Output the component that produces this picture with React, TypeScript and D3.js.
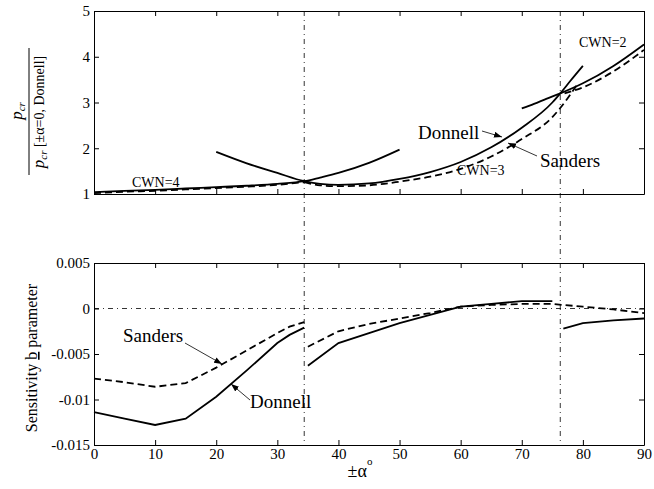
import { useRef, useEffect } from "react";
import * as d3 from "d3";

const W = 654;
const H = 489;
const LEFT = 94;
const RIGHT = 644;
const TOP_PANEL = { top: 11, bottom: 194 };
const BOT_PANEL = { top: 263, bottom: 445 };
const FONT = "'Liberation Serif', 'Times New Roman', serif";

// x ticks and y ticks
const alphaTicks = [0, 10, 20, 30, 40, 50, 60, 70, 80, 90];
const ratioTicks = [1, 2, 3, 4, 5];
const sensTicks = [-0.015, -0.01, -0.005, 0, 0.005];
const modeChangeAlpha = [34.4, 76.3];

// top panel: p_cr ratio
const donnellCwn4Alpha = [0, 5, 10, 15, 20, 25, 30, 34.4, 37, 40, 45, 50];
const donnellCwn4 = [1.04, 1.07, 1.09, 1.12, 1.15, 1.18, 1.22, 1.28, 1.36, 1.46, 1.68, 1.97];
const sandersCwn4Alpha = [0, 5, 10, 15, 20, 25, 30, 34.4];
const sandersCwn4 = [1.02, 1.05, 1.07, 1.1, 1.13, 1.16, 1.2, 1.26];

const donnellCwn3Alpha = [20, 25, 30, 34.4, 37, 40, 45, 50, 55, 60, 65, 70, 75, 76.3, 78, 80];
const donnellCwn3 = [1.92, 1.67, 1.46, 1.28, 1.22, 1.2, 1.23, 1.33, 1.48, 1.7, 2.02, 2.45, 3.0, 3.2, 3.48, 3.8];
const sandersCwn3Alpha = [34.4, 37, 40, 45, 50, 55, 60, 65, 70, 75, 76.3, 79];
const sandersCwn3 = [1.26, 1.19, 1.17, 1.19, 1.27, 1.38, 1.55, 1.82, 2.2, 2.68, 2.88, 3.38];

const donnellCwn2Alpha = [70, 72, 74, 76.3, 80, 85, 90];
const donnellCwn2 = [2.87, 2.97, 3.08, 3.2, 3.42, 3.8, 4.27];
const sandersCwn2Alpha = [77, 80, 85, 90];
const sandersCwn2 = [3.2, 3.33, 3.68, 4.15];

// bottom panel: sensitivity b
const donnellSens1Alpha = [0, 5, 10, 15, 20, 25, 30, 32, 34.4];
const donnellSens1 = [-0.0114, -0.0121, -0.0128, -0.0121, -0.0097, -0.0068, -0.0038, -0.0029, -0.0021];
const sandersSens1Alpha = [0, 5, 10, 15, 20, 25, 30, 32, 34.4];
const sandersSens1 = [-0.0077, -0.0081, -0.0086, -0.0082, -0.0065, -0.0046, -0.0027, -0.002, -0.0015];

const donnellSens2Alpha = [35, 40, 45, 50, 55, 60, 65, 70, 75];
const donnellSens2 = [-0.0063, -0.0038, -0.0027, -0.0016, -0.0007, 0.0002, 0.0005, 0.0008, 0.0008];
const sandersSens2Alpha = [35, 40, 45, 50, 55, 60, 65, 70, 75, 80, 85, 90];
const sandersSens2 = [-0.0042, -0.0025, -0.0017, -0.0011, -0.0005, 0.0002, 0.0004, 0.0005, 0.0005, 0.0002, -0.0001, -0.0005];

const donnellSens3Alpha = [76.8, 80, 85, 90];
const donnellSens3 = [-0.0022, -0.0016, -0.0013, -0.0011];

const zip = (a: number[], b: number[]) => a.map((v, i) => [v, b[i]] as [number, number]);

export default function App() {
  const svgRef = useRef<SVGSVGElement>(null);

  useEffect(() => {
    const svg = d3.select(svgRef.current);
    svg.selectAll("*").remove();

    svg.append("defs").append("marker")
      .attr("id", "arr")
      .attr("viewBox", "0 0 8 6")
      .attr("refX", 8)
      .attr("refY", 3)
      .attr("markerWidth", 8)
      .attr("markerHeight", 6)
      .attr("markerUnits", "userSpaceOnUse")
      .attr("orient", "auto")
      .append("path")
      .attr("d", "M0,0 L8,3 L0,6 Z")
      .attr("fill", "#000");

    const x = d3.scaleLinear().domain([0, 90]).range([LEFT, RIGHT]);
    const yTop = d3.scaleLinear().domain([1, 5]).range([TOP_PANEL.bottom, TOP_PANEL.top]);
    const yBot = d3.scaleLinear().domain([-0.015, 0.005]).range([BOT_PANEL.bottom, BOT_PANEL.top]);

    // axes for one panel
    const drawAxes = (y: d3.ScaleLinear<number, number>, yTicks: number[], panel: { top: number; bottom: number }, xLabels: boolean, yFmt: (d: number) => string) => {
      const g = svg.append("g");
      g.append("g")
        .attr("transform", `translate(0,${panel.bottom})`)
        .call(d3.axisBottom(x).tickValues(alphaTicks).tickSize(-5).tickSizeOuter(0).tickPadding(3)
          .tickFormat(xLabels ? (d) => String(d) : () => ""));
      g.append("g")
        .attr("transform", `translate(0,${panel.top})`)
        .call(d3.axisTop(x).tickValues(alphaTicks).tickSize(-5).tickSizeOuter(0).tickFormat(() => ""));
      g.append("g")
        .attr("transform", `translate(${LEFT},0)`)
        .call(d3.axisLeft(y).tickValues(yTicks).tickSize(-5).tickSizeOuter(0).tickPadding(4)
          .tickFormat((d) => yFmt(d as number)));
      g.append("g")
        .attr("transform", `translate(${RIGHT},0)`)
        .call(d3.axisRight(y).tickValues(yTicks).tickSize(-5).tickSizeOuter(0).tickFormat(() => ""));
      g.selectAll(".domain").attr("stroke", "#000").attr("stroke-width", 1);
      g.selectAll(".tick line").attr("stroke", "#000");
      g.selectAll("text")
        .attr("font-family", FONT)
        .attr("font-size", 15)
        .attr("fill", "#000");
    };

    drawAxes(yTop, ratioTicks, TOP_PANEL, false, (d) => String(d));
    drawAxes(yBot, sensTicks, BOT_PANEL, true, (d) => (d === 0 ? "0" : String(d)));

    // zero line (dash-dot)
    svg.append("line")
      .attr("x1", LEFT).attr("x2", RIGHT)
      .attr("y1", yBot(0)).attr("y2", yBot(0))
      .attr("stroke", "#000").attr("stroke-width", 0.8)
      .attr("stroke-dasharray", "5,4,1,4");

    // mode change verticals
    svg.selectAll(".vline")
      .data(modeChangeAlpha)
      .join("line")
      .attr("x1", (d) => x(d)).attr("x2", (d) => x(d))
      .attr("y1", TOP_PANEL.top).attr("y2", BOT_PANEL.bottom)
      .attr("stroke", "#000").attr("stroke-width", 0.8)
      .attr("stroke-dasharray", "5,4,1,4");

    const lineTop = d3.line<[number, number]>().x((d) => x(d[0])).y((d) => yTop(d[1])).curve(d3.curveMonotoneX);
    const lineBot = d3.line<[number, number]>().x((d) => x(d[0])).y((d) => yBot(d[1]));

    const topSeries = [
      { d: zip(donnellCwn4Alpha, donnellCwn4), dash: false },
      { d: zip(sandersCwn4Alpha, sandersCwn4), dash: true },
      { d: zip(donnellCwn3Alpha, donnellCwn3), dash: false },
      { d: zip(sandersCwn3Alpha, sandersCwn3), dash: true },
      { d: zip(donnellCwn2Alpha, donnellCwn2), dash: false },
      { d: zip(sandersCwn2Alpha, sandersCwn2), dash: true },
    ];
    const botSeries = [
      { d: zip(donnellSens1Alpha, donnellSens1), dash: false },
      { d: zip(sandersSens1Alpha, sandersSens1), dash: true },
      { d: zip(donnellSens2Alpha, donnellSens2), dash: false },
      { d: zip(sandersSens2Alpha, sandersSens2), dash: true },
      { d: zip(donnellSens3Alpha, donnellSens3), dash: false },
    ];

    svg.append("g").selectAll("path")
      .data(topSeries)
      .join("path")
      .attr("d", (s) => lineTop(s.d))
      .attr("fill", "none").attr("stroke", "#000").attr("stroke-width", 1.8)
      .attr("stroke-dasharray", (s) => (s.dash ? "7,4" : null));

    svg.append("g").selectAll("path")
      .data(botSeries)
      .join("path")
      .attr("d", (s) => lineBot(s.d))
      .attr("fill", "none").attr("stroke", "#000").attr("stroke-width", 1.8)
      .attr("stroke-dasharray", (s) => (s.dash ? "7,4" : null));

    // annotations
    const label = (t: string, tx: number, ty: number, size: number) =>
      svg.append("text").attr("x", tx).attr("y", ty).attr("font-family", FONT)
        .attr("font-size", size).attr("fill", "#000").text(t);
    const arrow = (x1: number, y1: number, x2: number, y2: number) =>
      svg.append("line").attr("x1", x1).attr("y1", y1).attr("x2", x2).attr("y2", y2)
        .attr("stroke", "#000").attr("stroke-width", 0.8).attr("marker-end", "url(#arr)");

    label("CWN=4", 132, 187, 14);
    label("CWN=3", 457, 175, 14);
    label("CWN=2", 579, 47, 14);
    label("Donnell", 418, 139, 19);
    arrow(482, 131, 502, 137);
    label("Sanders", 540, 167, 19);
    arrow(537, 156, 508, 143);
    label("Sanders", 123, 342, 19);
    arrow(185, 343, 222, 364);
    label("Donnell", 250, 408, 19);
    arrow(250, 400, 231, 384);

    // y label, top: fraction
    svg.append("line")
      .attr("x1", 29).attr("x2", 29).attr("y1", 48).attr("y2", 175)
      .attr("stroke", "#000").attr("stroke-width", 1);
    const num = svg.append("text")
      .attr("transform", "translate(22,111) rotate(-90)")
      .attr("text-anchor", "middle").attr("font-family", FONT).attr("fill", "#000");
    num.append("tspan").attr("font-size", 17).attr("font-style", "italic").text("p");
    num.append("tspan").attr("font-size", 11).attr("font-style", "italic").attr("dy", 3).text("cr");
    const den = svg.append("text")
      .attr("transform", "translate(44,112) rotate(-90)")
      .attr("text-anchor", "middle").attr("font-family", FONT).attr("fill", "#000");
    den.append("tspan").attr("font-size", 17).attr("font-style", "italic").text("p");
    den.append("tspan").attr("font-size", 11).attr("font-style", "italic").attr("dy", 3).text("cr");
    den.append("tspan").attr("font-size", 14).attr("dy", -3).text(" [±α=0, Donnell]");

    // y label, bottom
    const yl = svg.append("text")
      .attr("transform", "translate(37,358) rotate(-90)")
      .attr("text-anchor", "middle").attr("font-family", FONT).attr("font-size", 16).attr("fill", "#000");
    yl.append("tspan").text("Sensitivity ");
    yl.append("tspan").style("text-decoration", "underline").text("b");
    yl.append("tspan").text(" parameter");

    // x label
    const xl = svg.append("text")
      .attr("x", 360).attr("y", 477)
      .attr("text-anchor", "middle").attr("font-family", FONT).attr("fill", "#000");
    xl.append("tspan").attr("font-size", 18).text("±α");
    xl.append("tspan").attr("font-size", 11).attr("dy", -12).text("o");
  }, []);

  return (
    <svg
      ref={svgRef}
      width={W}
      height={H}
      style={{ position: "absolute", left: 0, top: 0, background: "#fff" }}
    />
  );
}
